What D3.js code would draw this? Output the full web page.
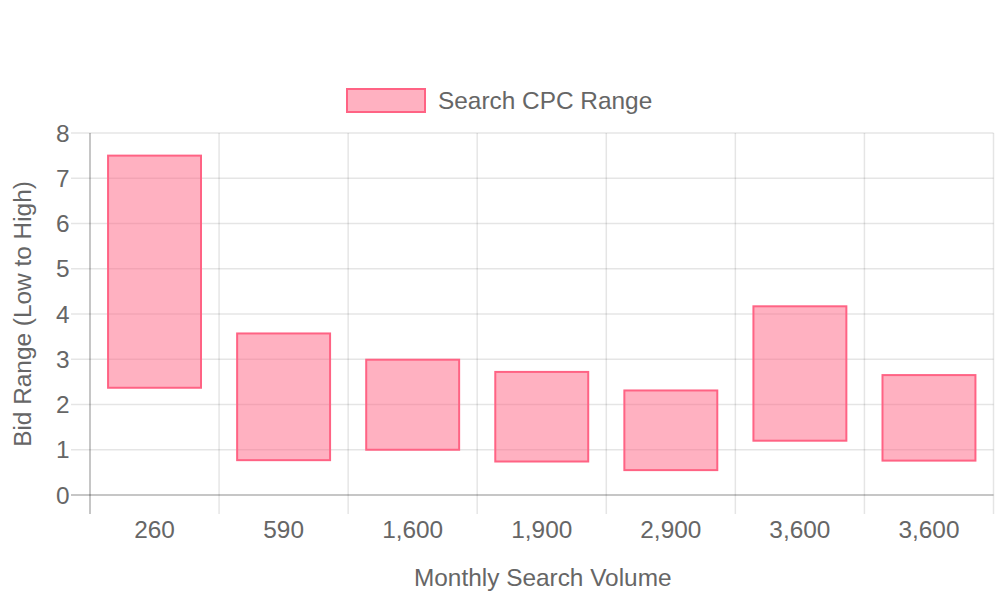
<!DOCTYPE html>
<html>
<head>
<meta charset="utf-8">
<script src="https://cdn.jsdelivr.net/npm/d3@7"></script>
<style>
  html, body { margin: 0; padding: 0; background: #fff; }
  svg { display: block; font-family: "Liberation Sans", Arial, Helvetica, sans-serif; }
</style>
</head>
<body>
<svg id="chart" width="1000" height="600"></svg>
<script>
const categories = ["260", "590", "1,600", "1,900", "2,900", "3,600", "3,600"];
const lowValues  = [2.37, 0.77, 1.0, 0.74, 0.55, 1.2, 0.76];
const highValues = [7.5, 3.57, 2.99, 2.72, 2.31, 4.17, 2.65];
const yTicks = [0, 1, 2, 3, 4, 5, 6, 7, 8];
const seriesName = "Search CPC Range";
const xTitle = "Monthly Search Volume";
const yTitle = "Bid Range (Low to High)";

(function () {
const svg = d3.select("#chart");
const pLeft = 90, pRight = 993.5, pTop = 133, pBottom = 495;
const tickLen = 19;
const textColor = "#666";
const gridColor = "rgba(0,0,0,0.1)";
const axisColor = "rgba(0,0,0,0.3)";
const fill = "rgba(255,99,132,0.5)";
const stroke = "rgb(255,99,132)";
const fs = 24.4;

const x = d3.scaleBand().domain(d3.range(categories.length)).range([pLeft, pRight]).padding(0);
const y = d3.scaleLinear().domain([0, 8]).range([pBottom, pTop]);

// horizontal grid lines
svg.append("g").selectAll("line").data(yTicks.filter(t => t !== 0)).join("line")
  .attr("x1", pLeft - tickLen).attr("x2", pRight)
  .attr("y1", d => y(d)).attr("y2", d => y(d))
  .attr("stroke", gridColor).attr("stroke-width", 1.5);

// vertical grid lines at category boundaries
const bounds = d3.range(categories.length + 1).map(i => pLeft + i * x.step());
svg.append("g").selectAll("line").data(bounds.slice(1)).join("line")
  .attr("x1", d => d).attr("x2", d => d)
  .attr("y1", pTop).attr("y2", pBottom + tickLen)
  .attr("stroke", gridColor).attr("stroke-width", 1.5);

// axis lines
svg.append("line").attr("x1", pLeft - tickLen).attr("x2", pRight)
  .attr("y1", y(0)).attr("y2", y(0)).attr("stroke", axisColor).attr("stroke-width", 1.5);
svg.append("line").attr("x1", pLeft).attr("x2", pLeft)
  .attr("y1", pTop).attr("y2", pBottom + tickLen).attr("stroke", axisColor).attr("stroke-width", 1.5);

// y tick labels
svg.append("g").selectAll("text").data(yTicks).join("text")
  .attr("x", 69.5).attr("y", d => y(d) + 8.5)
  .attr("text-anchor", "end").attr("font-size", fs).attr("fill", textColor)
  .text(d => d);

// x tick labels
svg.append("g").selectAll("text").data(categories).join("text")
  .attr("x", (d, i) => x(i) + x.bandwidth() / 2).attr("y", 538)
  .attr("text-anchor", "middle").attr("font-size", fs).attr("fill", textColor)
  .text(d => d);

// bars
const bw = x.bandwidth() * 0.72;
svg.append("g").selectAll("rect").data(categories).join("rect")
  .attr("x", (d, i) => x(i) + (x.bandwidth() - bw) / 2)
  .attr("width", bw)
  .attr("y", (d, i) => y(highValues[i]))
  .attr("height", (d, i) => y(lowValues[i]) - y(highValues[i]))
  .attr("fill", fill).attr("stroke", stroke).attr("stroke-width", 2);

// axis titles
svg.append("text").attr("x", (pLeft + pRight) / 2 + 1).attr("y", 586)
  .attr("text-anchor", "middle").attr("font-size", fs).attr("fill", textColor).text(xTitle);
svg.append("text").attr("transform", `translate(31,${(pTop + pBottom) / 2}) rotate(-90)`)
  .attr("text-anchor", "middle").attr("font-size", fs).attr("fill", textColor).text(yTitle);

// legend
const lg = svg.append("g");
lg.append("rect").attr("x", 347).attr("y", 89).attr("width", 78).attr("height", 23)
  .attr("fill", fill).attr("stroke", stroke).attr("stroke-width", 2);
lg.append("text").attr("x", 438).attr("y", 109).attr("font-size", fs).attr("fill", textColor).text(seriesName);
})();
</script>
</body>
</html>
